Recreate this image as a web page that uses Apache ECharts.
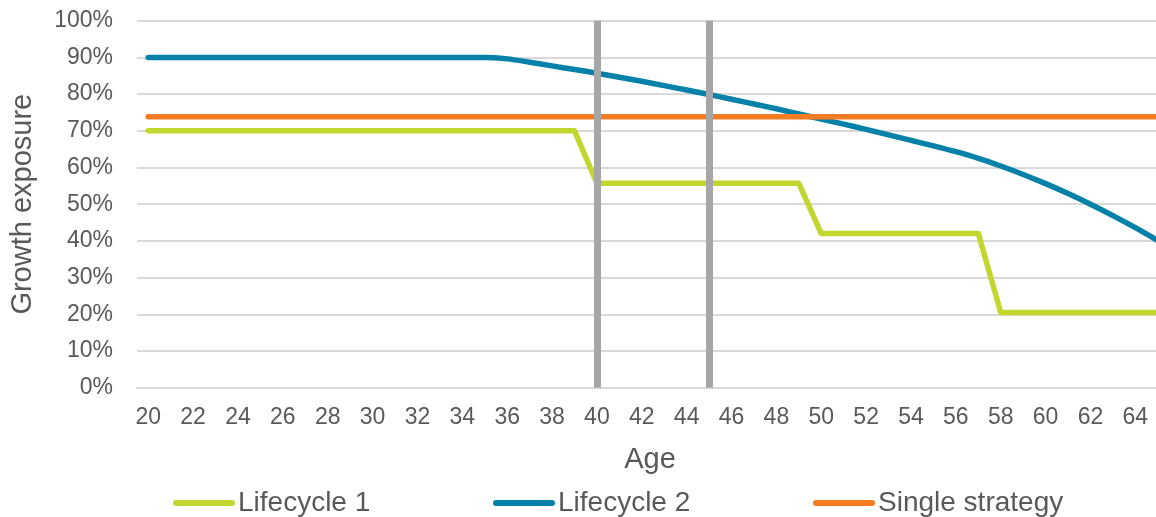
<!DOCTYPE html>
<html>
<head>
<meta charset="utf-8">
<title>Growth exposure by age</title>
<script src="https://cdn.jsdelivr.net/npm/echarts@6/dist/echarts.min.js"></script>
<style>
  html, body { margin: 0; padding: 0; background: #ffffff; overflow: hidden; }
  /* The plot runs slightly past the right edge of the window, so the last age is cut off */
  #chart { width: 1172px; height: 517px; }
</style>
</head>
<body>
<div id="chart"></div>
<script>
// Age categories along the x axis
const ages = [20, 21, 22, 23, 24, 25, 26, 27, 28, 29,
              30, 31, 32, 33, 34, 35, 36, 37, 38, 39,
              40, 41, 42, 43, 44, 45, 46, 47, 48, 49,
              50, 51, 52, 53, 54, 55, 56, 57, 58, 59,
              60, 61, 62, 63, 64, 65];

// Growth exposure (%) for each strategy, one value per age
const lifecycle1 = [70, 70, 70, 70, 70, 70, 70, 70, 70, 70,
                    70, 70, 70, 70, 70, 70, 70, 70, 70, 70,
                    55.7, 55.7, 55.7, 55.7, 55.7, 55.7, 55.7, 55.7, 55.7, 55.7,
                    42, 42, 42, 42, 42, 42, 42, 42, 20.5, 20.5,
                    20.5, 20.5, 20.5, 20.5, 20.5, 20.5];

const lifecycle2 = [90, 90, 90, 90, 90, 90, 90, 90, 90, 90,
                    90, 90, 90, 90, 90, 90, 89.6, 88.7, 87.7, 86.7,
                    85.7, 84.6, 83.5, 82.3, 81.1, 79.9, 78.6, 77.3, 76.0, 74.6,
                    73.2, 71.8, 70.4, 68.9, 67.4, 65.9, 64.3, 62.5, 60.4, 58.1,
                    55.6, 52.9, 50.0, 46.9, 43.6, 40.1];

const singleStrategy = [73.8, 73.8, 73.8, 73.8, 73.8, 73.8, 73.8, 73.8, 73.8, 73.8,
                        73.8, 73.8, 73.8, 73.8, 73.8, 73.8, 73.8, 73.8, 73.8, 73.8,
                        73.8, 73.8, 73.8, 73.8, 73.8, 73.8, 73.8, 73.8, 73.8, 73.8,
                        73.8, 73.8, 73.8, 73.8, 73.8, 73.8, 73.8, 73.8, 73.8, 73.8,
                        73.8, 73.8, 73.8, 73.8, 73.8, 73.8];

// Ages marked with vertical reference bars
const milestoneAges = [40, 45];

const seriesNames = ['Lifecycle 1', 'Lifecycle 2', 'Single strategy'];

const FONT = '"Liberation Sans", Arial, sans-serif';
const TEXT = '#595959';
const GRID_LINE = '#d9d9d9';
const COLORS = { green: '#c2d62f', blue: '#0381a8', orange: '#f57c22', marker: '#a6a6a6' };

// Rounded bar used as the legend key
const legendKey = 'path://M3,0 L59,0 A3,3 0 0 1 59,6 L3,6 A3,3 0 0 1 3,0 Z';

function legendFor(name, left) {
  return {
    data: [name],
    left: left,
    top: 489,
    icon: legendKey,
    itemWidth: 62,
    itemHeight: 6,
    itemGap: 0,
    padding: 0,
    selectedMode: false,
    textStyle: { fontFamily: FONT, fontSize: 28, color: TEXT, padding: [0, 0, 0, -2] }
  };
}

const chart = echarts.init(document.getElementById('chart'), null, { renderer: 'canvas' });

chart.setOption({
  animation: false,
  backgroundColor: '#ffffff',
  grid: { left: 136, top: 20.7, height: 367, width: 1033, containLabel: false },
  legend: [
    legendFor(seriesNames[0], 173),
    legendFor(seriesNames[1], 493),
    legendFor(seriesNames[2], 813)
  ],
  xAxis: {
    type: 'category',
    data: ages.map(String),
    boundaryGap: true,
    name: 'Age',
    nameLocation: 'middle',
    nameGap: 58,
    nameTextStyle: { fontFamily: FONT, fontSize: 29, color: TEXT, padding: [0, 6, 0, 0] },
    axisLine: { show: true, lineStyle: { color: GRID_LINE, width: 2 } },
    axisTick: { show: false },
    axisLabel: {
      interval: 1,
      margin: 18,
      fontFamily: FONT,
      fontSize: 23,
      color: TEXT
    },
    splitLine: { show: false }
  },
  yAxis: {
    type: 'value',
    min: 0,
    max: 100,
    interval: 10,
    name: 'Growth exposure',
    nameLocation: 'middle',
    nameGap: 100,
    nameTextStyle: { fontFamily: FONT, fontSize: 29, color: TEXT },
    axisLine: { show: false },
    axisTick: { show: false },
    axisLabel: {
      formatter: '{value}%',
      margin: 24,
      fontFamily: FONT,
      fontSize: 23,
      color: TEXT
    },
    splitLine: { show: true, lineStyle: { color: GRID_LINE, width: 2 } }
  },
  series: [
    {
      name: 'milestones',
      type: 'line',
      data: [],
      z: 1,
      silent: true,
      markLine: {
        silent: true,
        symbol: ['none', 'none'],
        label: { show: false },
        lineStyle: { color: COLORS.marker, width: 7, type: 'solid' },
        emphasis: { disabled: true },
        data: milestoneAges.map(a => ({ xAxis: String(a) }))
      }
    },
    {
      name: seriesNames[0],
      type: 'line',
      data: lifecycle1,
      z: 3,
      showSymbol: false,
      symbol: 'none',
      color: COLORS.green,
      lineStyle: { color: COLORS.green, width: 5.5, cap: 'round', join: 'round' }
    },
    {
      name: seriesNames[1],
      type: 'line',
      data: lifecycle2,
      z: 3,
      smooth: 0.3,
      showSymbol: false,
      symbol: 'none',
      color: COLORS.blue,
      lineStyle: { color: COLORS.blue, width: 5.5, cap: 'round', join: 'round' }
    },
    {
      name: seriesNames[2],
      type: 'line',
      data: singleStrategy,
      z: 3,
      showSymbol: false,
      symbol: 'none',
      color: COLORS.orange,
      lineStyle: { color: COLORS.orange, width: 5.5, cap: 'round', join: 'round' }
    }
  ]
});
</script>
</body>
</html>
